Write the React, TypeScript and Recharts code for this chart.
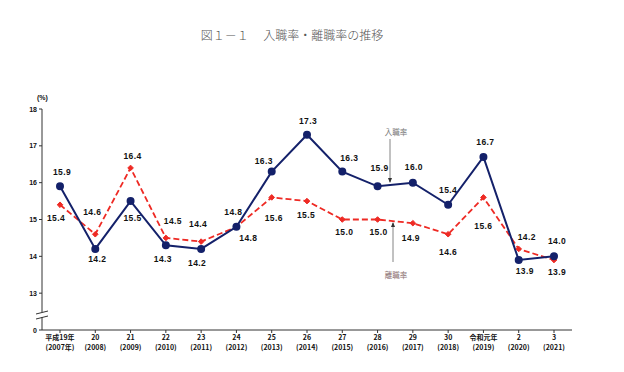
import { LabelList, Line, LineChart, XAxis, YAxis } from "recharts";

const eraYears = ["平成19年", "20", "21", "22", "23", "24", "25", "26", "27", "28", "29", "30", "令和元年", "2", "3"];
const westernYears = ["(2007年)", "(2008)", "(2009)", "(2010)", "(2011)", "(2012)", "(2013)", "(2014)", "(2015)", "(2016)", "(2017)", "(2018)", "(2019)", "(2020)", "(2021)"];
const hireRate = [15.9, 14.2, 15.5, 14.3, 14.2, 14.8, 16.3, 17.3, 16.3, 15.9, 16.0, 15.4, 16.7, 13.9, 14.0];
const separationRate = [15.4, 14.6, 16.4, 14.5, 14.4, 14.8, 15.6, 15.5, 15.0, 15.0, 14.9, 14.6, 15.6, 14.2, 13.9];
const yTicks = [12, 13, 14, 15, 16, 17, 18];

// label nudges [dx, dy] per point, so the numbers sit where the original puts them
const hireLabelShift = [[2, -14], [2, 10], [2, 17], [-3, 14], [-4, 14], [-3, -15], [-8, -11], [1, -14], [7, -14], [2, -18], [1, -16], [0, -15], [2, -15], [6, 11], [3, -15]];
const sepLabelShift = [[-4, 13], [-3, -22], [2, -12], [7, -17], [-3, -18], [12, 11], [2, 21], [-1, 14], [2, 12], [1, 12], [-2, 15], [0, 18], [0, 29], [8, -12], [3, 12]];

const data = eraYears.map((era, i) => ({
  era,
  west: westernYears[i],
  hire: hireRate[i],
  sep: separationRate[i],
}));

const NAVY = "#14216a";
const RED = "#ee2a24";
const numFont = "'Liberation Sans', 'DejaVu Sans', sans-serif";
const jpFont = "'Noto Sans CJK JP', sans-serif";

const makeLabel = (shifts: number[][]) => (p: any) => {
  const s = shifts[p.index] || [0, 0];
  return (
    <text
      x={Number(p.x) + s[0]}
      y={Number(p.y) + s[1]}
      textAnchor="middle"
      dominantBaseline="central"
      fontFamily={numFont}
      fontWeight="bold"
      fontSize={8.5}
      letterSpacing={0.4}
      fill="#111"
    >
      {Number(p.value).toFixed(1)}
    </text>
  );
};

const Diamond = (p: any) => {
  const { cx, cy } = p;
  if (cx == null || cy == null) return null;
  const r = 2.8;
  return <polygon points={`${cx},${cy - r} ${cx + r},${cy} ${cx},${cy + r} ${cx - r},${cy}`} fill={RED} stroke={RED} />;
};

const XTick = (p: any) => {
  const idx = p.payload?.index ?? 0;
  return (
    <g>
      <text x={p.x} y={p.y + 5} textAnchor="middle" fontFamily={jpFont} fontWeight="bold" fontSize={7} fill="#111">
        {eraYears[idx]}
      </text>
      <text x={p.x} y={p.y + 15} textAnchor="middle" fontFamily={jpFont} fontWeight="bold" fontSize={7} fill="#111">
        {westernYears[idx]}
      </text>
    </g>
  );
};

const YTick = (p: any) => {
  const v = p.payload?.value;
  const axisX = 42;
  return (
    <g>
      <text x={p.x} y={p.y} textAnchor="end" dominantBaseline="central" fontFamily={numFont} fontWeight="bold" fontSize={7} fill="#111">
        {v === 12 ? "0" : v}
      </text>
      {v === 12 && (
        <g>
          <rect x={axisX - 2} y={p.y - 18} width={4} height={5} fill="#fff" />
          <line x1={axisX - 6} y1={p.y - 16} x2={axisX + 6} y2={p.y - 19} stroke="#333" strokeWidth={1} />
          <line x1={axisX - 6} y1={p.y - 11} x2={axisX + 6} y2={p.y - 14} stroke="#333" strokeWidth={1} />
        </g>
      )}
    </g>
  );
};

const App = () => {
  return (
    <div style={{ position: "absolute", left: 0, top: 0, width: 624, height: 372, background: "#fff" }}>
      <div
        style={{
          position: "absolute",
          left: 0,
          width: 584,
          top: 26,
          textAlign: "center",
          fontFamily: jpFont,
          fontSize: 12,
          fontWeight: 300,
          color: "#555",
          whiteSpace: "pre",
        }}
      >
        {"図１－１　 入職率・離職率の推移"}
      </div>
      <div style={{ position: "absolute", left: 37, top: 94, fontFamily: numFont, fontWeight: "bold", fontSize: 7, color: "#111" }}>(%)</div>
      <LineChart width={624} height={372} data={data} margin={{ top: 109, right: 52, bottom: 12, left: 12 }}>
        <XAxis
          dataKey="era"
          padding={{ left: 18, right: 18 }}
          height={30}
          tickSize={3}
          tick={XTick}
          interval={0}
          axisLine={{ stroke: "#333" }}
          tickLine={{ stroke: "#333" }}
        />
        <YAxis
          domain={[12, 18]}
          ticks={yTicks}
          width={30}
          tickSize={3}
          tick={YTick}
          interval={0}
          axisLine={{ stroke: "#333" }}
          tickLine={{ stroke: "#333" }}
        />
        <Line
          type="linear"
          dataKey="sep"
          stroke={RED}
          strokeWidth={1.8}
          strokeDasharray="6 3"
          dot={Diamond}
          isAnimationActive={false}
        >
          <LabelList dataKey="sep" content={makeLabel(sepLabelShift)} />
        </Line>
        <Line
          type="linear"
          dataKey="hire"
          stroke={NAVY}
          strokeWidth={2}
          dot={{ r: 3, fill: NAVY, stroke: NAVY }}
          isAnimationActive={false}
        >
          <LabelList dataKey="hire" content={makeLabel(hireLabelShift)} />
        </Line>
      </LineChart>
      <svg width={624} height={372} style={{ position: "absolute", left: 0, top: 0, pointerEvents: "none" }}>
        <text x={396} y={131} textAnchor="middle" dominantBaseline="central" fontFamily={jpFont} fontSize={7.5} fill="#777">
          入職率
        </text>
        <line x1={390} y1={139} x2={390} y2={182} stroke="#666" strokeWidth={0.8} />
        <polygon points="388,178 392,178 390,183" fill="#333" />
        <text x={396} y={274} textAnchor="middle" dominantBaseline="central" fontFamily={jpFont} fontSize={7.5} fill="#8a6f6f">
          離職率
        </text>
        <line x1={393} y1={262} x2={393} y2={223} stroke="#666" strokeWidth={0.8} />
        <polygon points="391,227 395,227 393,222" fill="#333" />
      </svg>
    </div>
  );
};

export default App;
